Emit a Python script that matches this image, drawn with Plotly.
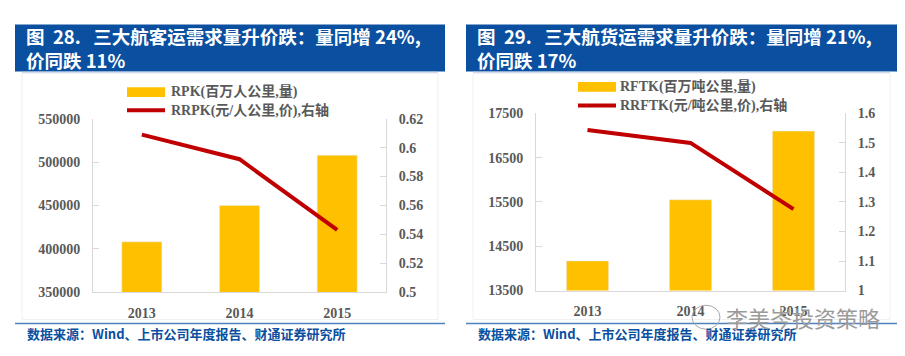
import plotly.graph_objects as go

# ---------------- data ----------------
years = ["2013", "2014", "2015"]

rpk = [408000, 450000, 508000]          # 百万人公里
rrpk = [0.609, 0.592, 0.543]            # 元/人公里

rftk = [14170, 15550, 17100]            # 百万吨公里
rrftk = [1.544, 1.500, 1.276]           # 元/吨公里

left_ticks = [350000, 400000, 450000, 500000, 550000]
left_ticktext = ["350000", "400000", "450000", "500000", "550000"]
left_rticks = [0.5, 0.52, 0.54, 0.56, 0.58, 0.6, 0.62]
left_rticktext = ["0.5", "0.52", "0.54", "0.56", "0.58", "0.6", "0.62"]

right_ticks = [13500, 14500, 15500, 16500, 17500]
right_ticktext = ["13500", "14500", "15500", "16500", "17500"]
right_rticks = [1.0, 1.1, 1.2, 1.3, 1.4, 1.5, 1.6]
right_rticktext = ["1", "1.1", "1.2", "1.3", "1.4", "1.5", "1.6"]

NB = "\u00a0"
title_left = ["图" + NB * 2 + "28." + NB * 3 + "三大航客运需求量升价跌：量同增 24%,", "价同跌 11%"]
title_right = ["图" + NB * 2 + "29." + NB * 3 + "三大航货运需求量升价跌：量同增 21%,", "价同跌 17%"]
legend_left = ["RPK(百万人公里,量)", "RRPK(元/人公里,价),右轴"]
legend_right = ["RFTK(百万吨公里,量)", "RRFTK(元/吨公里,价),右轴"]
source_text = "数据来源：Wind、上市公司年度报告、财通证券研究所"
watermark = "李美岑投资策略"

# ---------------- style ----------------
W, H = 905, 356
BAR = "#FFC000"
LINE = "#C00000"
BLUE = "#0A4FA0"
AX = "#D9D9D9"
TICKFONT = dict(family="Liberation Serif, Times New Roman, serif", size=14,
                color="#595959", weight="bold")
SERIF_B = "Liberation Serif, Noto Sans CJK SC, serif"
CJK = "Noto Sans CJK SC, sans-serif"


def px(x):
    return x / W


def py(y):
    return 1 - y / H


fig = go.Figure()

fig.add_trace(go.Bar(x=years, y=rpk, marker_color=BAR, width=0.41,
                     xaxis="x", yaxis="y", showlegend=False))
fig.add_trace(go.Scatter(x=years, y=rrpk, mode="lines", line=dict(color=LINE, width=4),
                         xaxis="x", yaxis="y2", showlegend=False))
fig.add_trace(go.Bar(x=years, y=rftk, marker_color=BAR, width=0.41,
                     xaxis="x2", yaxis="y3", showlegend=False))
fig.add_trace(go.Scatter(x=years, y=rrftk, mode="lines", line=dict(color=LINE, width=4),
                         xaxis="x2", yaxis="y4", showlegend=False))

xcommon = dict(type="category", range=[-0.5, 2.5], showline=True, linecolor=AX, linewidth=1,
               ticks="", showgrid=False, zeroline=False, tickfont=TICKFONT, ticklabelstandoff=8)
ycommon = dict(showline=True, linecolor=AX, linewidth=1, ticks="inside", ticklen=6,
               tickcolor=AX, showgrid=False, zeroline=False, tickfont=TICKFONT,
               tickmode="array", ticklabelstandoff=9)

fig.update_layout(
    width=W, height=H, margin=dict(l=0, r=0, t=0, b=0),
    paper_bgcolor="white", plot_bgcolor="white", barmode="overlay",
    xaxis=dict(domain=[px(85), px(378)], anchor="y", **xcommon),
    yaxis=dict(domain=[py(289.3), py(108.3)], anchor="x", range=[350000, 550000],
               tickvals=left_ticks, ticktext=left_ticktext, **ycommon),
    yaxis2=dict(overlaying="y", side="right", anchor="x", range=[0.5, 0.62],
                tickvals=left_rticks, ticktext=left_rticktext, **ycommon),
    xaxis2=dict(domain=[px(528), px(837)], anchor="y3", **xcommon),
    yaxis3=dict(domain=[py(287.7), py(102.7)], anchor="x2", range=[13500, 17500],
                tickvals=right_ticks, ticktext=right_ticktext, **ycommon),
    yaxis4=dict(overlaying="y3", side="right", anchor="x2", range=[1.0, 1.6],
                tickvals=right_rticks, ticktext=right_rticktext, **ycommon),
)

shapes = []
annotations = []


def panel(x0, x1, titles, legends, leg_x, leg_y1, leg_y2, text_x):
    # banner
    shapes.append(dict(type="rect", xref="paper", yref="paper", x0=px(x0), x1=px(x1),
                       y0=py(59), y1=py(10), fillcolor=BLUE, line=dict(width=0), layer="below"))
    shapes.append(dict(type="line", xref="paper", yref="paper", x0=px(x0 + 7), x1=px(x1 - 7),
                       y0=py(59.5), y1=py(59.5), line=dict(color="#9DB9DC", width=1)))
    # faint frame
    shapes.append(dict(type="rect", xref="paper", yref="paper", x0=px(x0 + 7), x1=px(x1 - 7),
                       y0=py(318), y1=py(61), line=dict(color="#F0F0F0", width=1), layer="below"))
    # footer line
    shapes.append(dict(type="line", xref="paper", yref="paper", x0=px(x0), x1=px(x1),
                       y0=py(322), y1=py(322), line=dict(color="#4F81BD", width=1.5)))
    annotations.append(dict(text="<b>" + "<br>".join(titles) + "</b>", xref="paper", yref="paper",
                            x=px(x0 + 9), y=py(34.5), xanchor="left", yanchor="middle", align="left",
                            showarrow=False, font=dict(family=CJK, size=18.5, color="white")))
    annotations.append(dict(text=f"<b>{source_text}</b>", xref="paper", yref="paper",
                            x=px(x0 + 10), y=py(333), xanchor="left", yanchor="middle",
                            showarrow=False, font=dict(family=CJK, size=13, color="#0A4FA0")))
    # legend
    shapes.append(dict(type="rect", xref="paper", yref="paper", x0=px(leg_x), x1=px(leg_x + 38),
                       y0=py(leg_y1 + 5), y1=py(leg_y1 - 5), fillcolor=BAR, line=dict(width=0)))
    shapes.append(dict(type="line", xref="paper", yref="paper", x0=px(leg_x), x1=px(leg_x + 38),
                       y0=py(leg_y2), y1=py(leg_y2), line=dict(color=LINE, width=4)))
    for yy, t in zip([leg_y1, leg_y2], legends):
        annotations.append(dict(text=f"<b>{t}</b>", xref="paper", yref="paper",
                                x=px(text_x), y=py(yy), xanchor="left", yanchor="middle",
                                showarrow=False, font=dict(family=SERIF_B, size=14, color="#595959")))


panel(7, 437, title_left, legend_left, 119, 80.5, 99.5, 161)
panel(458, 889, title_right, legend_right, 570, 75, 94.5, 610)

# watermark (wechat-style bubble + name)
shapes.append(dict(type="circle", xref="paper", yref="paper", x0=px(684), x1=px(712),
                   y0=py(328), y1=py(303), line=dict(color="#A8A8A8", width=1)))
annotations.append(dict(text=watermark, xref="paper", yref="paper", x=px(716), y=py(315),
                        xanchor="left", yanchor="middle", showarrow=False,
                        font=dict(family=CJK, size=22, color="#9A9A9A")))

fig.update_layout(shapes=shapes, annotations=annotations)
fig.write_html("out.html")
